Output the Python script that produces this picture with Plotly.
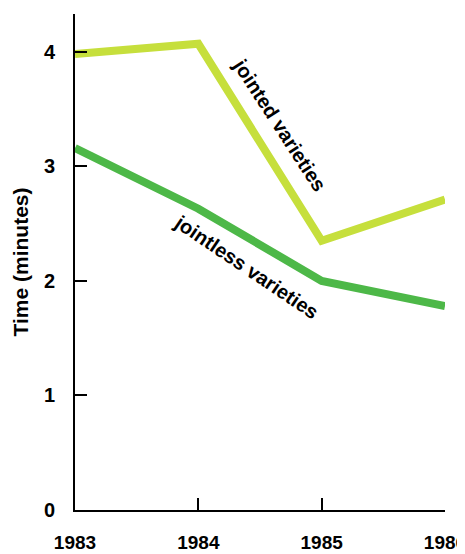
import plotly.graph_objects as go

years = [1983, 1984, 1985, 1986]
jointed = [3.98, 4.07, 2.35, 2.71]
jointless = [3.16, 2.63, 2.0, 1.78]
y_ticks = [0, 1, 2, 3, 4]

fig = go.Figure()
fig.add_trace(go.Scatter(x=years, y=jointed, mode="lines",
                         line=dict(color="#c6df3c", width=8), name="jointed varieties"))
fig.add_trace(go.Scatter(x=years, y=jointless, mode="lines",
                         line=dict(color="#4db848", width=8), name="jointless varieties"))

font_family = "Liberation Sans, Arial, sans-serif"
fig.add_annotation(x=1984.66, y=3.36, text="<b>jointed varieties</b>", showarrow=False,
                   textangle=57, font=dict(family=font_family, size=20, color="black"))
fig.add_annotation(x=1984.39, y=2.12, text="<b>jointless varieties</b>", showarrow=False,
                   textangle=34, font=dict(family=font_family, size=20, color="black"))

fig.update_layout(
    width=465, height=554,
    margin=dict(l=67, r=28, t=6, b=52),
    paper_bgcolor="white", plot_bgcolor="white",
    showlegend=False,
    font=dict(family=font_family, color="black"),
)
fig.update_xaxes(range=[1983, 1986], tickvals=years, ticktext=[str(y) for y in years],
                 showgrid=False, zeroline=False, showline=True, linecolor="black", linewidth=2,
                 ticks="inside", ticklen=12, tickwidth=2, tickcolor="black",
                 ticklabelstandoff=14, automargin=False, ticklabeloverflow="allow",
                 tickfont=dict(family=font_family, size=19, color="black", weight="bold"))
fig.update_yaxes(range=[0, 4.33], tickvals=y_ticks,
                 showgrid=False, zeroline=False, showline=True, linecolor="black", linewidth=2,
                 ticks="inside", ticklen=12, tickwidth=2, tickcolor="black",
                 ticklabelstandoff=14, automargin=False,
                 tickfont=dict(family=font_family, size=20, color="black", weight="bold"),
                 title=dict(text="<b>Time (minutes)</b>", standoff=10,
                            font=dict(family=font_family, size=21, color="black")))
fig.write_html("out.html")
